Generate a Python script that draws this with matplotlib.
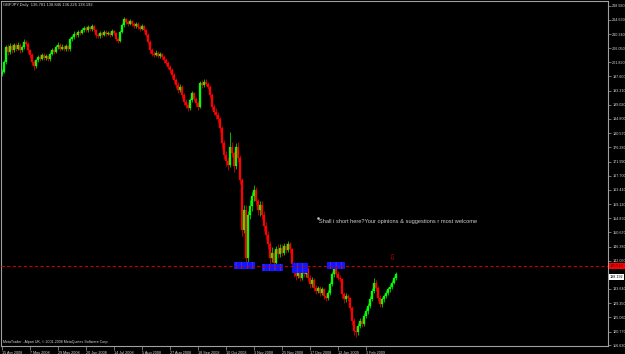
import numpy as np
import matplotlib
matplotlib.use("Agg")
import matplotlib.pyplot as plt
from matplotlib.patches import Rectangle

# daily closes (GBPJPY), one per bar
closes = [
    199.0, 202.0, 206.5, 205.0, 206.8, 205.5, 207.0, 206.0, 207.2, 205.5, 206.5, 208.0, 207.5, 205.5,
    204.0, 202.0, 200.8, 202.5, 203.5, 203.0, 204.0, 203.2, 203.8, 202.8, 204.5, 205.5, 205.0, 206.5,
    207.2, 206.0, 206.5, 205.8, 206.8, 205.8, 208.8, 209.5, 210.5, 210.0, 211.0, 210.8, 211.5, 212.2,
    211.5, 212.5, 211.8, 212.8, 211.5, 210.0, 209.8, 210.6, 210.2, 211.0, 210.5, 210.8, 210.2, 211.2,
    210.6, 209.0, 208.3, 211.0, 213.0, 214.8, 214.0, 213.5, 214.2, 213.4, 212.8, 213.5, 212.6, 212.0,
    212.8, 211.5, 210.2, 208.0, 205.5, 204.5, 204.2, 204.8, 203.8, 204.3, 203.5, 202.5, 201.8, 200.5,
    199.5, 198.0, 196.5, 195.0, 193.5, 194.5, 192.0, 190.0, 189.0, 188.2, 190.5, 192.5, 190.8, 189.5,
    188.5, 195.5, 195.0, 196.0, 195.2, 194.5, 192.0, 188.5, 187.0, 186.0, 184.8, 182.0, 177.5, 174.0,
    172.0, 171.0, 176.5, 174.5, 170.5, 176.5, 173.0, 166.5, 151.5, 157.5, 143.0, 156.0, 158.5, 161.5,
    163.5, 160.0, 157.5, 159.0, 156.0, 152.5, 150.0, 147.0, 143.0, 144.5, 141.5, 145.5, 144.0, 146.0,
    144.5, 146.5, 145.2, 147.0, 145.5, 141.0, 138.5, 137.5, 139.8, 137.0, 139.0, 138.0, 139.5, 137.0,
    135.0, 136.2, 134.0, 133.0, 133.8, 132.5, 133.5, 131.5, 130.8, 132.5, 135.0, 138.0, 139.8, 138.0,
    137.0, 136.5, 132.0, 130.5, 131.5, 130.8, 128.0, 124.0, 121.0, 120.5, 122.5, 124.0, 123.0, 125.5,
    127.0, 128.5, 130.5, 133.0, 135.5, 134.0, 131.0, 129.0, 130.5, 131.5, 132.5, 133.5, 134.2, 135.5,
    136.781, 138.192,
]
highs = [
    200.0, 202.6, 207.2, 207.5, 207.6, 207.3, 207.8, 207.6, 208.0, 207.8, 207.2, 208.8, 208.6, 207.9,
    206.0, 204.6, 202.5, 203.0, 204.2, 204.3, 204.7, 204.6, 204.4, 204.2, 205.1, 206.3, 206.2, 207.2,
    207.9, 207.6, 207.3, 207.0, 207.4, 207.2, 209.4, 210.2, 211.2, 211.0, 211.7, 211.6, 212.2, 212.9,
    212.7, 213.2, 212.9, 213.3, 213.1, 211.9, 210.7, 211.2, 211.1, 211.6, 211.5, 211.4, 211.3, 211.8,
    211.7, 211.0, 209.6, 211.6, 213.7, 215.5, 215.3, 214.6, 214.8, 214.7, 213.9, 214.1, 213.9, 213.1,
    213.4, 213.2, 212.0, 210.7, 208.5, 206.1, 205.2, 205.5, 205.3, 205.0, 204.8, 204.0, 203.1, 202.3,
    201.2, 200.1, 198.6, 197.2, 195.8, 195.3, 195.0, 192.7, 190.8, 189.8, 191.2, 193.3, 193.0, 191.5,
    190.3, 196.3, 196.5, 196.8, 196.7, 195.9, 195.0, 192.6, 189.4, 188.2, 187.0, 185.5, 182.8, 178.6,
    175.2, 173.5, 181.0, 177.8, 175.3, 177.5, 178.0, 174.0, 167.0, 158.8, 159.0, 157.0, 160.5, 162.8,
    165.0, 164.2, 160.8, 160.2, 160.0, 157.0, 153.8, 151.0, 148.0, 146.2, 145.3, 146.6, 147.0, 147.2,
    147.0, 147.5, 147.3, 147.9, 147.7, 146.0, 141.8, 139.6, 140.8, 140.5, 140.0, 139.9, 140.4, 140.1,
    137.8, 137.1, 136.8, 134.9, 134.6, 134.4, 134.2, 134.0, 132.3, 133.3, 135.8, 138.8, 141.4, 140.6,
    138.9, 137.9, 137.0, 132.8, 132.4, 132.2, 131.3, 128.6, 124.8, 122.5, 123.4, 125.0, 124.9, 126.4,
    127.9, 129.4, 131.4, 134.0, 136.9, 136.3, 134.6, 131.8, 131.3, 132.2, 133.3, 134.3, 135.0, 136.3,
    137.5, 138.846,
]
lows = [
    197.8, 198.6, 201.5, 204.2, 204.5, 204.8, 205.0, 205.2, 205.6, 204.8, 204.9, 206.0, 206.8, 204.8,
    203.3, 201.2, 199.6, 200.2, 201.9, 202.3, 202.6, 202.6, 202.7, 202.2, 202.3, 204.0, 204.3, 204.6,
    205.9, 205.4, 205.5, 205.2, 205.3, 205.2, 205.4, 208.2, 209.0, 209.4, 209.6, 210.1, 210.3, 211.0,
    211.0, 211.1, 211.2, 211.3, 210.9, 209.3, 209.1, 209.3, 209.6, 209.8, 209.9, 210.0, 209.6, 209.8,
    210.0, 208.3, 207.6, 208.0, 210.6, 212.6, 213.3, 212.8, 213.0, 212.8, 212.1, 212.3, 212.0, 211.4,
    211.6, 210.9, 209.5, 207.3, 204.6, 203.8, 203.4, 203.7, 203.1, 203.2, 202.8, 201.8, 201.0, 199.8,
    198.6, 197.2, 195.6, 194.2, 192.6, 192.8, 191.1, 189.0, 188.1, 187.3, 187.6, 190.0, 190.1, 188.7,
    187.6, 188.0, 194.2, 194.5, 194.6, 193.8, 191.2, 187.6, 186.0, 184.9, 183.7, 180.9, 176.2, 172.6,
    170.6, 169.5, 170.4, 173.2, 168.9, 169.8, 171.8, 165.2, 149.5, 150.5, 140.0, 141.6, 154.8, 157.0,
    160.2, 158.8, 155.8, 155.6, 154.8, 151.2, 148.5, 145.6, 140.8, 141.6, 139.8, 140.6, 143.0, 143.3,
    143.5, 143.8, 144.3, 144.6, 144.4, 140.0, 137.2, 136.4, 136.9, 136.0, 136.3, 137.1, 137.3, 136.1,
    134.0, 134.3, 133.1, 132.1, 132.3, 131.6, 131.9, 130.6, 130.0, 130.2, 131.9, 134.4, 137.3, 137.2,
    136.2, 135.6, 130.8, 129.5, 129.8, 129.9, 127.0, 122.6, 119.8, 119.0, 119.8, 121.7, 122.0, 122.4,
    124.8, 126.2, 127.8, 129.9, 132.4, 133.0, 130.0, 128.1, 128.3, 129.8, 130.9, 131.9, 132.8, 133.6,
    135.0, 136.226,
]
first_open = 198.5

date_labels = ["15 Apr 2008", "7 May 2008", "29 May 2008", "20 Jun 2008", "14 Jul 2008",
               "5 Aug 2008", "27 Aug 2008", "18 Sep 2008", "10 Oct 2008", "3 Nov 2008",
               "25 Nov 2008", "17 Dec 2008", "12 Jan 2009", "3 Feb 2009"]
date_bars = [0, 14, 28, 42, 56, 70, 84, 98, 112, 126, 140, 154, 168, 182]

price_ticks = [218.920, 214.630, 210.340, 206.050, 201.890, 197.600, 193.310, 189.020,
               184.800, 180.570, 176.280, 171.990, 167.700, 163.410, 159.120, 154.830,
               150.670, 146.380, 142.090, 133.640, 129.350, 125.060, 120.770, 116.630]

level = 140.54
last_price = 138.192
# support zones (bar_from, bar_to, price_low, price_high)
zones = [(116, 126.5, 139.6, 141.7), (130, 140.5, 139.0, 141.1),
         (145, 153, 138.4, 141.4), (162.5, 171.5, 139.6, 141.7)]

opens = [first_open] + closes[:-1]
n = len(closes)
x = np.arange(n)

fig = plt.figure(figsize=(6.25, 3.54), dpi=100, facecolor="black")
ax = fig.add_axes([1 / 625, 8 / 354, 607 / 625, 345 / 354])
ax.set_facecolor("black")
ax.set_xlim(-0.5, 303)
ax.set_ylim(116.42, 220.34)

for i in range(n):
    o, c = opens[i], closes[i]
    col = "#00ff00" if c >= o else "#ff0000"
    ax.vlines(x[i], lows[i], highs[i], color=col, lw=0.5)
    ax.add_patch(Rectangle((x[i] - 0.3, min(o, c)), 0.6, max(abs(c - o), 0.15),
                           facecolor=col, edgecolor=col, lw=0.2))

plt.rcParams["hatch.linewidth"] = 0.4
for b0, b1, p0, p1 in zones:
    ax.add_patch(Rectangle((b0, p0), b1 - b0, p1 - p0, facecolor="#1414ff",
                           edgecolor="#4a4aff", hatch="|||", lw=0, zorder=3))

ax.axhline(level, color="#c00000", lw=0.8, ls=(0, (3, 2)), zorder=4)
ax.text(195, level + 1.0, "\u21e9", color="#d00000", fontsize=6, ha="center", va="bottom",
        family=["DejaVu Sans"])

ax.plot([158], [155.1], marker="s", ms=0.8, color="#c0c0c0")
ax.text(158.5, 153.8, "Shall i short here?Your opinions & suggestions r most welcome",
        color="#d0d0d0", fontsize=4.1, family="Liberation Sans", va="center", ha="left")

for s in ax.spines.values():
    s.set_color("#a0a0a0")
    s.set_linewidth(0.8)

ax.yaxis.tick_right()
ax.set_yticks(price_ticks)
ax.set_yticklabels([f"{v:.3f}" for v in price_ticks])
ax.tick_params(axis="y", colors="#a0a0a0", labelcolor="#d8d8d8", labelsize=2.7,
               length=2, width=0.5, pad=1)
for t in ax.get_yticklabels():
    t.set_family("Liberation Sans")

ax.set_xticks(date_bars)
ax.set_xticklabels(date_labels, ha="left")
ax.tick_params(axis="x", colors="#a0a0a0", labelcolor="#d8d8d8", labelsize=2.7,
               length=3, width=0.5, pad=0.5)
for t in ax.get_xticklabels():
    t.set_family("Liberation Sans")

# price labels on the scale
ax.text(1.003, level, f"{level:.3f}", transform=ax.get_yaxis_transform(), fontsize=2.7,
        color="#400000", family="Liberation Sans", va="center", ha="left",
        bbox=dict(boxstyle="square,pad=0.25", fc="#ff0000", ec="none"), clip_on=False)
ax.text(1.003, last_price - 1.0, f"{last_price:.3f}", transform=ax.get_yaxis_transform(),
        fontsize=2.7, color="black", family="Liberation Sans", va="center", ha="left",
        bbox=dict(boxstyle="square,pad=0.25", fc="white", ec="none"), clip_on=False)

fig.text(3 / 625, 1 - 5 / 354, "GBPJPY,Daily  136.781 138.846 136.226 138.192",
         color="#d8d8d8", fontsize=2.9, family="Liberation Sans", va="center")
fig.text(3 / 625, 1 - 342 / 354,
         "MetaTrader - Alpari UK, \u00a9 2001-2008 MetaQuotes Software Corp.",
         color="#d8d8d8", fontsize=2.6, family="Liberation Sans", va="center")

fig.savefig("out.png", dpi=100, facecolor="black")
